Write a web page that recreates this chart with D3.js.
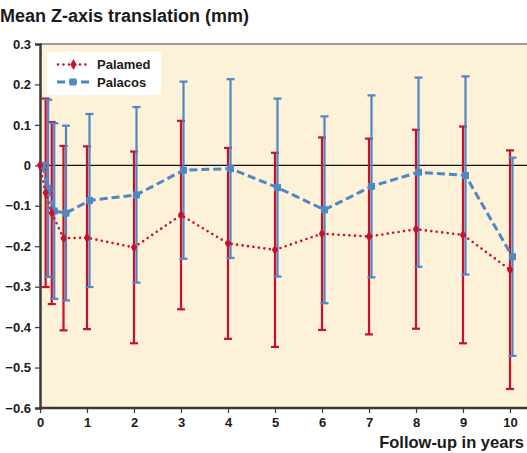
<!DOCTYPE html>
<html>
<head>
<meta charset="utf-8">
<script src="https://cdn.jsdelivr.net/npm/d3@7"></script>
<style>
  body { margin: 0; background: #fff; }
  svg text { font-family: "Liberation Sans", Arial, sans-serif; fill: #1a1a1a; }
</style>
</head>
<body>
<div id="chart"></div>
<script>
// follow-up times (years)
var times = [0, 0.12, 0.25, 0.5, 1, 2, 3, 4, 5, 6, 7, 8, 9, 10];

var palamedMean = [0, -0.068, -0.118, -0.180, -0.179, -0.203, -0.123, -0.193, -0.209, -0.169, -0.176, -0.158, -0.172, -0.258];
var palamedSd   = [0, 0.233, 0.225, 0.228, 0.226, 0.237, 0.233, 0.236, 0.240, 0.238, 0.242, 0.246, 0.268, 0.295];

var palacosMean = [0, -0.057, -0.113, -0.118, -0.087, -0.073, -0.012, -0.008, -0.055, -0.110, -0.052, -0.017, -0.025, -0.226];
var palacosSd   = [0, 0.219, 0.217, 0.216, 0.214, 0.217, 0.219, 0.221, 0.220, 0.231, 0.225, 0.234, 0.245, 0.245];

var xTicks = [0, 1, 2, 3, 4, 5, 6, 7, 8, 9, 10];
var yTicks = [-0.6, -0.5, -0.4, -0.3, -0.2, -0.1, 0, 0.1, 0.2, 0.3];

var red = "#c8102e",
    blue = "#4f86c4",
    bg = "#fdf1d8";

var W = 527, H = 453;

var x = d3.scaleLinear().domain([0, 10]).range([40, 510]);
var y = d3.scaleLinear().domain([-0.6, 0.3]).range([408, 44]);

var svg = d3.select("#chart").append("svg")
    .attr("width", W)
    .attr("height", H);

// plot area
svg.append("rect")
    .attr("x", x(0)).attr("y", y(0.3))
    .attr("width", W - x(0)).attr("height", y(-0.6) - y(0.3))
    .attr("fill", bg);
svg.append("line")
    .attr("x1", x(0)).attr("x2", W)
    .attr("y1", y(0.3)).attr("y2", y(0.3))
    .attr("stroke", "#9a9a9a").attr("stroke-width", 2);

// zero line
svg.append("line")
    .attr("x1", x(0)).attr("x2", W)
    .attr("y1", y(0)).attr("y2", y(0))
    .attr("stroke", "#111").attr("stroke-width", 1.2);

// axes
var yAxis = d3.axisLeft(y)
    .tickValues(yTicks)
    .tickSize(5)
    .tickPadding(4)
    .tickFormat(d => d == 0 ? "0" : d3.format(".1f")(d));
var gy = svg.append("g")
    .attr("transform", "translate(" + x(0) + ",0)")
    .call(yAxis);

var xAxis = d3.axisBottom(x)
    .tickValues(xTicks)
    .tickSize(5)
    .tickPadding(5)
    .tickFormat(d3.format("d"));
var gx = svg.append("g")
    .attr("transform", "translate(0," + y(-0.6) + ")")
    .call(xAxis);

[gx, gy].forEach(function(g) {
    g.select(".domain").attr("stroke", "#3a3a3a").attr("stroke-width", 2.5);
    g.selectAll(".tick line").attr("stroke", "#3a3a3a").attr("stroke-width", 1.2);
    g.selectAll(".tick text")
        .attr("font-size", 13)
        .attr("font-weight", "bold")
        .attr("fill", "#1a1a1a");
});
gx.select(".domain").attr("d", "M" + x(0) + ",0H" + W);

// series
var series = [
    { name: "Palacos", mean: palacosMean, sd: palacosSd, color: blue, dx: 2.5 },
    { name: "Palamed", mean: palamedMean, sd: palamedSd, color: red, dx: 0 }
];

function pts(s) {
    return times.map(function(t, i) {
        return { t: t, m: s.mean[i], sd: s.sd[i] };
    });
}

// error bars (red first, blue on top)
[series[1], series[0]].forEach(function(s) {
    var g = svg.append("g").attr("stroke", s.color).attr("stroke-width", 2.2);
    var data = pts(s).filter(d => d.sd > 0);
    g.selectAll("line.bar").data(data).enter().append("line")
        .attr("x1", d => x(d.t) + s.dx).attr("x2", d => x(d.t) + s.dx)
        .attr("y1", d => y(d.m + d.sd)).attr("y2", d => y(d.m - d.sd));
    g.selectAll("line.capT").data(data).enter().append("line")
        .attr("x1", d => x(d.t) + s.dx - 4).attr("x2", d => x(d.t) + s.dx + 4)
        .attr("y1", d => y(d.m + d.sd)).attr("y2", d => y(d.m + d.sd));
    g.selectAll("line.capB").data(data).enter().append("line")
        .attr("x1", d => x(d.t) + s.dx - 4).attr("x2", d => x(d.t) + s.dx + 4)
        .attr("y1", d => y(d.m - d.sd)).attr("y2", d => y(d.m - d.sd));
});

// Palacos line + squares
var bs = series[0];
var line = d3.line()
    .x(d => x(d.t) + bs.dx)
    .y(d => y(d.m));
svg.append("path")
    .datum(pts(bs))
    .attr("d", line)
    .attr("fill", "none")
    .attr("stroke", blue)
    .attr("stroke-width", 3)
    .attr("stroke-dasharray", "8,4");
svg.selectAll("rect.sq").data(pts(bs)).enter().append("rect")
    .attr("x", d => x(d.t) + bs.dx - 3.5)
    .attr("y", d => y(d.m) - 3.5)
    .attr("width", 7).attr("height", 7)
    .attr("fill", blue);

// Palamed line + diamonds
var rs = series[1];
var line2 = d3.line()
    .x(d => x(d.t) + rs.dx)
    .y(d => y(d.m));
svg.append("path")
    .datum(pts(rs))
    .attr("d", line2)
    .attr("fill", "none")
    .attr("stroke", red)
    .attr("stroke-width", 2.6)
    .attr("stroke-linecap", "round")
    .attr("stroke-dasharray", "0,5.5");
var diamond = d3.symbol().type(d3.symbolDiamond).size(34);
svg.selectAll("path.dm").data(pts(rs)).enter().append("path")
    .attr("d", diamond)
    .attr("transform", d => "translate(" + (x(d.t) + rs.dx) + "," + y(d.m) + ")")
    .attr("fill", red);

// legend
var lg = svg.append("g");
lg.append("rect")
    .attr("x", 47).attr("y", 52)
    .attr("width", 114).attr("height", 43)
    .attr("fill", "#fff");
lg.append("line")
    .attr("x1", 58).attr("x2", 89).attr("y1", 64.5).attr("y2", 64.5)
    .attr("stroke", red).attr("stroke-width", 2.6)
    .attr("stroke-linecap", "round").attr("stroke-dasharray", "0,5.5");
lg.append("path")
    .attr("d", diamond)
    .attr("transform", "translate(73.5,64.5)")
    .attr("fill", red);
lg.append("line")
    .attr("x1", 57).attr("x2", 89).attr("y1", 82).attr("y2", 82)
    .attr("stroke", blue).attr("stroke-width", 3)
    .attr("stroke-dasharray", "8,4");
lg.append("rect")
    .attr("x", 69.5).attr("y", 78.5).attr("width", 7).attr("height", 7)
    .attr("fill", blue);
lg.append("text").attr("x", 97).attr("y", 69)
    .attr("font-size", 13).attr("font-weight", "bold").text("Palamed");
lg.append("text").attr("x", 97).attr("y", 87)
    .attr("font-size", 13).attr("font-weight", "bold").text("Palacos");

// titles
svg.append("text")
    .attr("x", 0).attr("y", 22)
    .attr("font-size", 18).attr("font-weight", "bold")
    .text("Mean Z-axis translation (mm)");
svg.append("text")
    .attr("x", 524).attr("y", 448)
    .attr("text-anchor", "end")
    .attr("font-size", 16.5).attr("font-weight", "bold")
    .text("Follow-up in years");
</script>
</body>
</html>
